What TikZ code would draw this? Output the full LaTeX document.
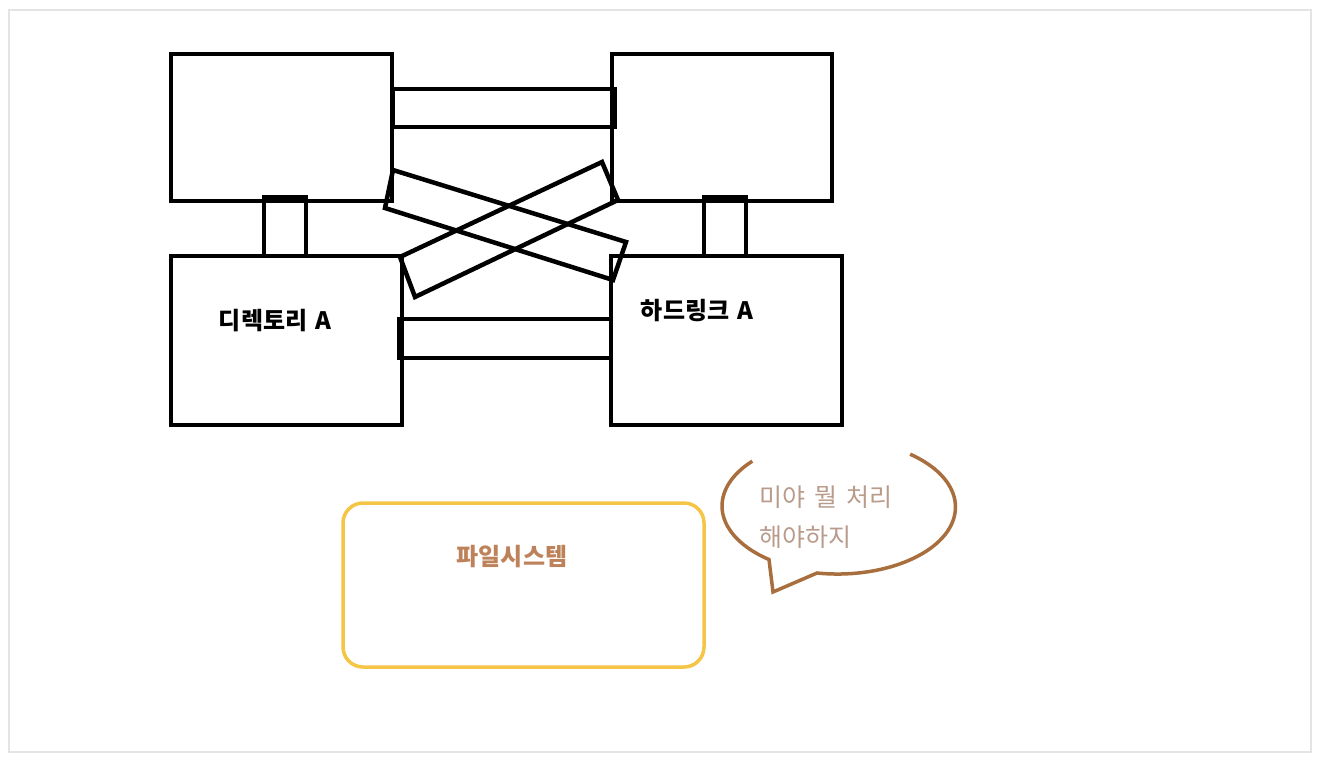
\documentclass[tikz,border=0pt]{standalone}
\usepackage{fontspec}
\usepackage{tikz}
\newfontfamily\krfont{Noto Sans CJK KR}
\definecolor{FrameGray}{RGB}{228, 228, 228}
\definecolor{FsYellow}{RGB}{245, 197, 70}
\definecolor{FsBrown}{RGB}{190, 130, 90}
\definecolor{TalkBrown}{RGB}{168, 110, 62}
\definecolor{TalkText}{RGB}{185, 155, 140}

\tikzset{
  box/.style={draw, line width=4pt, rectangle, anchor=north west, inner sep=0pt, outer sep=0pt},
  bar/.style={draw, line width=4.5pt, line join=miter},
  label/.style={font=\krfont\bfseries\fontsize{24}{28}\selectfont},
  talk/.style={font=\krfont\fontsize{25}{29}\selectfont, text=TalkText, anchor=west},
}

\begin{document}
\begin{tikzpicture}[x=1pt, y=-1pt]
          \useasboundingbox (0,0) rectangle (1322,766);
          \draw[FrameGray, line width=2pt] (9,10) rectangle (1311,752);
          % directory and hard link blocks
          \node[box, minimum width=221pt, minimum height=147pt] (dirtop) at (171,54) {};
          \node[box, minimum width=220pt, minimum height=147pt] (linktop) at (612,54) {};
          \node[box, minimum width=231pt, minimum height=169pt] (dirA) at (171,256) {};
          \node[box, minimum width=231pt, minimum height=169pt] (linkA) at (611,256) {};
          \draw[line width=4pt] (264,256) -- (264,197) -- (306,197) -- (306,256);
          \draw[line width=4pt] (704,256) -- (704,197) -- (746,197) -- (746,256);
          \draw[bar] (393,89) rectangle (615,127);
          \draw[bar] (399,319) rectangle (611,358);
          \draw[bar] (393,170) -- (626,242) -- (613,280) -- (385,208) -- cycle;
          \draw[bar] (400,257) -- (602,162) -- (618,200) -- (415,297) -- cycle;
          \node[label] (dirname) at (275,321) {디렉토리\,\,A};
          \node[label] (linkname) at (697,311) {하드링크\,\,A};
          % file system
          \draw[FsYellow, line width=3.5pt, rounded corners=20pt] (343,503) rectangle (704,667);
          \node[font=\krfont\bfseries\fontsize{24}{28}\selectfont, text=FsBrown] (fs) at (512,557) {파일시스템};
          % speech bubble
          \draw[TalkBrown, line width=3.5pt, line join=miter]
            (840,506) ++(222:118 and 67) arc[start angle=222, end angle=127, x radius=118, y radius=67]
            -- (773,592) -- (817,573)
            arc[start angle=100, end angle=-52, x radius=118, y radius=67];
          \node[talk] (talk1) at (756,497) {미야\hspace{9pt}뭘\hspace{9pt}처리};
          \node[talk] (talk2) at (756,537) {해야하지};
        \end{tikzpicture}
\end{document}
